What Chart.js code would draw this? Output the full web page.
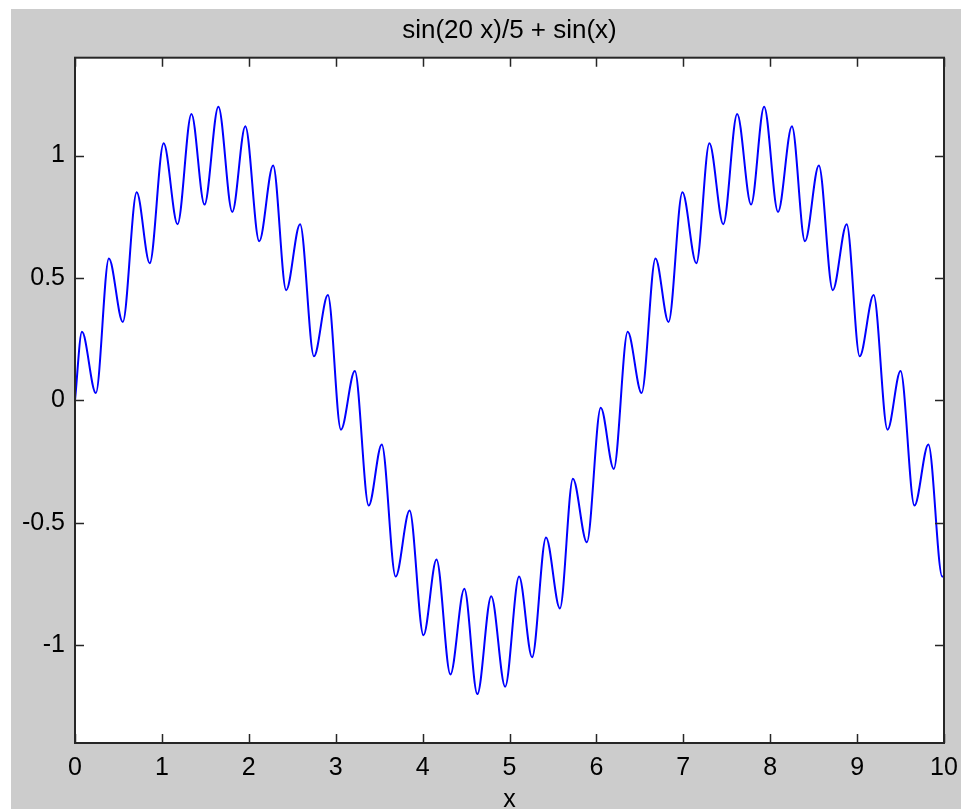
<!DOCTYPE html>
<html>
<head>
<meta charset="utf-8">
<script src="https://cdn.jsdelivr.net/npm/chart.js@4.4.1/dist/chart.umd.min.js"></script>
<style>
  html, body { margin: 0; padding: 0; background: #ffffff; overflow: hidden; }
  #frame { position: absolute; left: 11px; top: 9px; width: 950px; height: 800px; background: #cccccc; }
  #plot { position: absolute; left: 0; top: 0; }
</style>
</head>
<body>
<div id="frame"></div>
<canvas id="plot" width="961" height="820"></canvas>
<script>
// ── Data (peaks / troughs) ───────────────────────────────────
const xValues = [
  0.00, 0.08, 0.24, 0.39, 0.55, 0.71, 0.86, 1.02, 1.18, 1.34, 1.49,
  1.65, 1.81, 1.96, 2.12, 2.28, 2.43, 2.59, 2.75, 2.91, 3.06, 3.22,
  3.38, 3.53, 3.69, 3.85, 4.01, 4.16, 4.32, 4.48, 4.63, 4.79, 4.95,
  5.11, 5.26, 5.42, 5.58, 5.73, 5.89, 6.05, 6.20, 6.36, 6.52, 6.68,
  6.83, 6.99, 7.15, 7.30, 7.46, 7.62, 7.78, 7.93, 8.09, 8.25, 8.40,
  8.56, 8.72, 8.88, 9.03, 9.19, 9.35, 9.50, 9.66, 9.82, 9.98, 10.00
];
const yValues = [
  0.00, 0.28, 0.03, 0.58, 0.32, 0.85, 0.56, 1.05, 0.72, 1.17, 0.80,
  1.20, 0.77, 1.12, 0.65, 0.96, 0.45, 0.72, 0.18, 0.43, -0.12, 0.12,
  -0.43, -0.18, -0.72, -0.45, -0.96, -0.65, -1.12, -0.77, -1.20, -0.80, -1.17,
  -0.72, -1.05, -0.56, -0.85, -0.32, -0.58, -0.03, -0.28, 0.28, 0.03, 0.58,
  0.32, 0.85, 0.56, 1.05, 0.72, 1.17, 0.80, 1.20, 0.77, 1.12, 0.65,
  0.96, 0.45, 0.72, 0.18, 0.43, -0.12, 0.12, -0.43, -0.18, -0.72, -0.72
];
const xTicks = [0, 1, 2, 3, 4, 5, 6, 7, 8, 9, 10];
const yTicks = [-1, -0.5, 0, 0.5, 1];

const FONT = "'Liberation Sans', Arial, sans-serif";
const AXIS_COLOR = '#262626';

// Fondo blanco del área de trazado
const areaBg = {
  id: 'areaBg',
  beforeDraw(chart) {
    const { ctx, chartArea: a } = chart;
    ctx.save();
    ctx.fillStyle = '#ffffff';
    ctx.fillRect(a.left, a.top, a.right - a.left, a.bottom - a.top);
    ctx.restore();
  }
};

// Caja cerrada con marcas hacia dentro (estilo MATLAB)
const boxPlugin = {
  id: 'box',
  afterDraw(chart) {
    const { ctx, chartArea: a, scales } = chart;
    const len = 9;
    ctx.save();
    ctx.strokeStyle = AXIS_COLOR;
    ctx.lineWidth = 1.5;
    ctx.beginPath();
    xTicks.forEach(v => {
      const px = Math.round(scales.x.getPixelForValue(v)) + 0.5;
      ctx.moveTo(px, a.bottom); ctx.lineTo(px, a.bottom - len);
      ctx.moveTo(px, a.top);    ctx.lineTo(px, a.top + len);
    });
    yTicks.forEach(v => {
      const py = Math.round(scales.y.getPixelForValue(v)) + 0.5;
      ctx.moveTo(a.left, py);  ctx.lineTo(a.left + len, py);
      ctx.moveTo(a.right, py); ctx.lineTo(a.right - len, py);
    });
    ctx.stroke();
    ctx.lineWidth = 2;
    ctx.strokeRect(a.left, a.top, a.right - a.left, a.bottom - a.top);
    ctx.restore();
  }
};

const points = xValues.map((x, i) => ({ x, y: yValues[i] }));

new Chart(document.getElementById('plot'), {
  type: 'line',
  data: {
    datasets: [{
      data: points,
      borderColor: '#0000ff',
      borderWidth: 2,
      pointRadius: 0,
      fill: false,
      cubicInterpolationMode: 'monotone',
    }]
  },
  options: {
    responsive: false,
    animation: false,
    devicePixelRatio: 1,
    layout: { padding: { left: 11, right: 17, top: 9, bottom: 0 } },
    plugins: {
      legend: { display: false },
      tooltip: { enabled: false },
      title: {
        display: true,
        fullSize: false,
        text: 'sin(20 x)/5 + sin(x)',
        color: '#000000',
        font: { family: FONT, size: 26, weight: 'normal' },
        padding: { top: 6, bottom: 11.5 },
      },
    },
    scales: {
      x: {
        type: 'linear',
        min: 0,
        max: 10,
        afterBuildTicks: s => { s.ticks = xTicks.map(v => ({ value: v })); },
        afterFit: s => { s.height = 77; s.paddingLeft = 0; s.paddingRight = 0; },
        grid: { display: false, drawTicks: false },
        border: { display: false },
        ticks: {
          color: '#000000',
          font: { family: FONT, size: 25 },
          padding: 10,
          maxRotation: 0,
          callback: v => String(v),
        },
        title: {
          display: true,
          text: 'x',
          color: '#000000',
          font: { family: FONT, size: 25 },
          padding: { top: 0, bottom: 5 },
        },
      },
      y: {
        type: 'linear',
        min: -1.4,
        max: 1.4,
        afterBuildTicks: s => { s.ticks = yTicks.map(v => ({ value: v })); },
        afterFit: s => { s.width = 64; },
        grid: { display: false, drawTicks: false },
        border: { display: false },
        ticks: {
          color: '#000000',
          font: { family: FONT, size: 25 },
          padding: 10,
          callback: v => String(v),
        },
      },
    },
  },
  plugins: [areaBg, boxPlugin],
});
</script>
</body>
</html>
